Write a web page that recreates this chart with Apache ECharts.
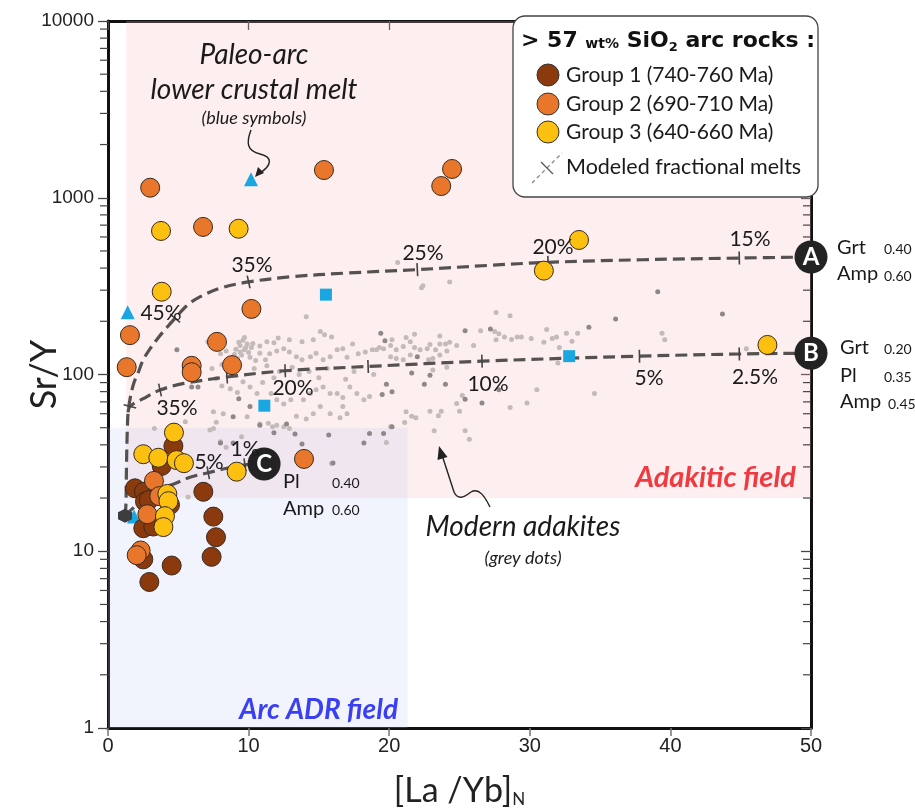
<!DOCTYPE html>
<html><head><meta charset="utf-8">
<script src="https://cdn.jsdelivr.net/npm/echarts@6/dist/echarts.min.js"></script>
<style>html,body{margin:0;padding:0;background:#fff}#c{width:915px;height:812px}</style>
</head><body><div id="c"></div>
<script>
// ---------- DATA ----------
const xTicks = [0, 10, 20, 30, 40, 50];
const yTicks = [1, 10, 100, 1000, 10000];
const minorTickValues = [2,3,4,5,6,7,8,9,20,30,40,50,60,70,80,90,200,300,400,500,600,700,800,900,2000,3000,4000,5000,6000,7000,8000,9000];

const group1 = [[4.65,39.4],[3.82,30.4],[1.92,22.7],[2.56,21.7],[2.63,19.1],[2.9,19.5],[4.41,18.3],[2.51,13.5],[3.22,13.8],[6.78,21.7],[7.49,15.7],[7.68,12.0],[7.37,9.3],[4.53,8.3],[2.94,6.7],[2.51,9.0]];
const group2 = [[3.0,1140],[6.76,684],[15.36,1435],[23.7,1165],[24.47,1455],[10.2,235],[1.56,167],[1.33,110],[7.75,153],[5.95,112],[5.95,103],[8.82,113],[13.94,33.3],[3.27,25.0],[3.65,20.5],[2.8,16.2],[2.32,10.1],[2.04,9.5]];
const group3 = [[3.77,649],[9.29,668],[3.82,294],[33.5,577],[31.0,387],[46.9,147],[4.69,46.9],[2.51,35.4],[3.58,33.8],[4.88,32.8],[5.4,31.5],[9.15,28.2],[4.22,21.1],[4.3,19.2],[4.05,15.8],[3.94,13.7]];
const paleoTriangles = [[10.17,1271],[1.4,225],[1.85,15.7]];
const paleoSquares = [[15.5,283],[11.12,66.6],[32.8,127]];
const startPoint = [[1.21,15.9]];

const greyLight = [[14.1,212],[15.1,175],[15.4,168],[15.9,163],[14.6,157],[13.8,153],[12.9,157],[12.1,161],[11.8,151],[11.3,153],[10.8,145],[10.2,142],[9.9,149],[9.4,146],[9.7,138],[9.5,129],[9.2,123],[10.1,125],[10.5,120],[10.8,132],[11.2,121],[11.5,131],[12.0,136],[12.5,140],[12.9,134],[13.4,126],[13.8,121],[14.4,126],[14.8,132],[15.3,121],[15.8,126],[16.3,138],[16.7,140],[17.0,125],[17.4,149],[17.8,131],[18.3,134],[18.8,138],[19.3,142],[8.4,136],[8.0,131],[7.4,108],[8.1,114],[8.5,106],[7.7,95],[8.1,86],[8.7,83],[9.2,79],[9.6,91],[10.1,85],[10.6,78],[11.0,90],[11.6,78],[12.0,72],[12.5,68],[13.0,72],[13.9,72],[14.4,78],[14.8,82],[15.3,85],[15.8,78],[16.3,78],[16.7,74],[17.2,85],[17.7,78],[18.2,72],[18.6,75],[16.7,66],[17.0,60],[16.5,57],[15.8,60],[15.1,66],[14.6,60],[14.1,56],[13.4,58],[12.9,49.5],[12.5,50.6],[12.0,51.6],[11.4,53],[10.8,52.5],[9.9,57.6],[8.2,60],[7.5,61.5],[7.7,53.6],[8.0,41.7],[8.4,38.7],[7.5,49.5],
[9.3,152],[9.6,156],[9.8,142],[10.0,133],[9.1,139],[9.4,134],[10.3,150],[9.7,162],[9.0,130],[10.4,108],[11.3,112],[12.2,104],[13.1,110],[11.8,96],[13.6,100],[14.3,104],[15.0,96],[15.6,108],[16.9,94],[17.5,104],[18.9,100],
[22.4,318],[24.3,334],[27.6,224],[28.6,215],[26.5,177],[27.5,175],[27.8,170],[27.6,157],[28.2,163],[28.7,158],[29.1,163],[29.4,163],[30.1,160],[31.2,180],[31.6,160],[31.0,152],[31.9,163],[32.6,171],[33.0,154],[33.4,171],[32.1,142],[32.0,116],[19.1,138],[19.6,140],[20.1,146],[20.2,157],[20.5,138],[21.0,144],[21.2,162],[21.5,153],[21.8,169],[21.8,142],[22.2,138],[21.5,129],[21.0,121],[20.5,123],[20.1,126],[22.7,140],[22.9,148],[23.3,138],[23.6,149],[23.6,165],[24.0,149],[24.3,152],[24.1,136],[24.8,146],[23.6,129],[23.1,123],[22.8,121],[26.0,146],[24.1,110],[23.1,106],[30.5,82],[34.6,78],[25.2,76],[24.8,68.5],[25.0,62],[23.7,62],[23.5,58.5],[22.9,62],[21.2,61.6],[21.6,58],[21.9,57],[21.1,53.5],[28.6,65],[29.8,69],[19.8,41.3],[23.2,48],[25.4,48],[25.7,43],
[39.4,171],[39.6,157],[45.4,140],[20.6,430],[22.3,310],[7.1,153],[5.7,20.3],[7.25,23.2],[3.3,49.5],[5.5,54],[7.25,48.5],[9.5,44.5],[11.7,50.6],[15.9,31.4],[20.1,50.6]];
const greyDark = [[4.9,138],[5.95,85],[6.4,85],[9.3,73],[10.1,66],[8.9,57.6],[10.8,51.6],[11.8,46.8],[12.7,52.5],[13.3,46],[15.7,45.5],[13.8,40.5],[16.0,31.6],[18.2,41],[18.6,46.4],[11.2,29.4],[25.4,177],[27.2,181],[34.2,185],[19.4,171],[19.7,155],[22.0,126],[21.6,102],[22.9,99],[22.5,88],[24.0,88],[19.8,88],[20.2,80],[19.5,77],[27.8,82],[25.4,72.5],[26.6,69],[20.2,50.6],[19.6,46.4],[39.1,294],[36.1,206],[43.7,220],[8.0,41],[8.9,41]];

const curveA = [[1.21,15.9],[1.27,18],[1.3,25],[1.33,35],[1.37,48],[1.43,61],[1.6,75],[1.85,90],[2.2,105],[2.5,121],[3.0,140],[3.56,161],[4.2,185],[4.77,208],[5.6,245],[6.5,274],[8,308],[10,334],[13,357],[17,375],[22,392],[27,414],[31.3,431],[38,446],[44.9,456],[50,462]];
const curveB = [[1.43,61],[1.56,66],[2.5,73],[3.7,81.7],[5.4,89],[8.46,96.8],[12.6,105],[18.5,111],[26.6,119],[37.8,127],[44.9,130.6],[50,132]];
const curveC = [[1.21,15.9],[1.8,17.6],[2.6,20],[3.6,22.4],[4.77,24.2],[5.83,26.2],[7.13,27.8],[8.2,29.2],[9.74,30.8],[11.1,31.2]];
const ticksA = [[4.77,208],[10,334],[22,392],[31.3,431],[44.9,456]];
const ticksB = [[1.56,66],[3.7,81.7],[8.46,96.8],[12.6,105],[18.5,111],[26.6,119],[37.8,127],[44.9,130.6]];
const ticksC = [[7.13,27.8],[9.74,30.8]];
const modelEnds = [{name:'A', value:[50,462]},{name:'B', value:[50,132]},{name:'C', value:[11.1,31.2]}];
const adakiticField = [[1.3,20],[50,10000]];
const arcADRField = [[0,1],[21.3,50]];

// ---------- STYLE ----------
const FONT = 'Lato, "Open Sans", sans-serif';
const tickRotA = [50, 12, 3, 2, 1];
const tickRotB = [75, 12, 4, 2, 2, 2, 1, 1];
const tickRotC = [10, 8];
const C1 = '#8b3a0e', C2 = '#e8772c', C3 = '#fcc010', BLUE = '#1aa7e1';

const chart = echarts.init(document.getElementById('c'));
const axisLineStyle = {color:'#111', width:3};

function tickSeries(name, data, rots){
  return {name, type:'scatter', z:4, symbol:'rect', symbolSize:[1.6,13], silent:true,
    itemStyle:{color:'#444', opacity:1},
    data: data.map((d,i)=>({value:d, symbolRotate:rots[i]}))};
}
function curve(name, data){
  return {name, type:'line', data, smooth:0.35, showSymbol:false, z:3, silent:true,
    lineStyle:{color:'#555151', width:3.2, type:[12,6]}};
}
function group(name, data, color){
  return {name, type:'scatter', data, symbol:'circle', symbolSize:19, z:6, clip:false,
    itemStyle:{color, borderColor:'#3a2a20', borderWidth:1, opacity:1}};
}

const option = {
  animation:false,
  backgroundColor:'#fff',
  grid:{left:108, right:104, top:21, bottom:84, outerBoundsMode:'none', containLabel:false},
  xAxis:[
    {type:'value', min:0, max:50, interval:10, position:'bottom',
     axisLine:{show:true, onZero:false, lineStyle:axisLineStyle},
     axisTick:{show:true, inside:false, length:8, lineStyle:{color:'#777', width:1.5}},
     axisLabel:{fontFamily:'"Liberation Sans Narrow","Liberation Sans",sans-serif', fontSize:20, color:'#222', margin:8,
       formatter:v=>xTicks.includes(v)?String(v):''},
     splitLine:{show:false},
     name:'{a|[La /Yb]}{b|N}', nameLocation:'middle', nameGap:46, nameMoveOverlap:false,
     nameTextStyle:{rich:{a:{fontFamily:FONT, fontSize:34, color:'#222'}, b:{fontFamily:FONT, fontSize:17, color:'#222', padding:[17,0,0,0]}}}},
    {type:'value', min:0, max:50, interval:10, position:'top',
     axisLine:{show:true, onZero:false, lineStyle:axisLineStyle},
     axisTick:{show:true, inside:true, length:9, lineStyle:{color:'#444', width:1.3}},
     axisLabel:{show:false}, splitLine:{show:false}}
  ],
  yAxis:[
    {type:'log', logBase:10, min:1, max:10000, position:'left',
     axisLine:{show:true, onZero:false, lineStyle:axisLineStyle},
     axisTick:{show:true, inside:false, length:10, lineStyle:{color:'#444', width:1.3}},
     axisLabel:{fontFamily:'"Liberation Sans",Arial,sans-serif', fontSize:19, color:'#222', margin:14,
       formatter:v=>{const r=Math.round(v); return yTicks.includes(r)?String(r):'';}},
     splitLine:{show:false},
     name:'Sr/Y', nameLocation:'middle', nameGap:46, nameRotate:90, nameMoveOverlap:false,
     nameTextStyle:{fontFamily:FONT, fontSize:36, color:'#222'}},
    {type:'log', logBase:10, min:1, max:10000, position:'right',
     axisLine:{show:true, onZero:false, lineStyle:axisLineStyle},
     axisTick:{show:true, inside:true, length:10, lineStyle:{color:'#444', width:1.3}},
     axisLabel:{show:false}, splitLine:{show:false}}
  ],
  series:[
    {name:'fields', type:'scatter', data:[], z:1, silent:true,
     markArea:{silent:true, data:[
       [{coord:adakiticField[0], itemStyle:{color:'rgba(245,185,185,0.23)'}},{coord:adakiticField[1]}],
       [{coord:arcADRField[0], itemStyle:{color:'rgba(185,195,245,0.2)'}},{coord:arcADRField[1]}]
     ]}},
    {name:'minor ticks', type:'custom', silent:true, z:2, clip:false,
     data:minorTickValues.map(v=>[0,v]),
     renderItem:(params, api)=>{
       const v = api.value(1);
       const p0 = api.coord([0, v]);
       const p1 = api.coord([50, v]);
       return {type:'group', children:[
         {type:'line', shape:{x1:p0[0]-8, y1:p0[1], x2:p0[0], y2:p0[1]}, style:{stroke:'#444', lineWidth:1.2}},
         {type:'line', shape:{x1:p1[0]-8, y1:p1[1], x2:p1[0], y2:p1[1]}, style:{stroke:'#444', lineWidth:1.2}}
       ]};
     }},
    {name:'Modern adakites (light)', type:'scatter', data:greyLight, symbolSize:5, z:2, silent:true, itemStyle:{color:'#c3baba', opacity:1}},
    {name:'Modern adakites (dark)', type:'scatter', data:greyDark, symbolSize:5, z:2, silent:true, itemStyle:{color:'#8e8888', opacity:1}},
    curve('Model A', curveA),
    curve('Model B', curveB),
    curve('Model C', curveC),
    tickSeries('ticks A', ticksA, tickRotA),
    tickSeries('ticks B', ticksB, tickRotB),
    tickSeries('ticks C', ticksC, tickRotC),
    {name:'Paleo-arc triangles', type:'scatter', data:paleoTriangles, symbol:'triangle', symbolSize:14, z:5, itemStyle:{color:BLUE, opacity:1}},
    {name:'Paleo-arc squares', type:'scatter', data:paleoSquares, symbol:'rect', symbolSize:12, z:5, itemStyle:{color:BLUE, opacity:1}},
    {name:'start', type:'scatter', data:startPoint, symbol:'path://M50,0 L93.3,25 L93.3,75 L50,100 L6.7,75 L6.7,25 Z', symbolSize:14, z:5, itemStyle:{color:'#3d3d3d', opacity:1}},
    group('Group 1 (740-760 Ma)', group1, C1),
    group('Group 2 (690-710 Ma)', group2, C2),
    group('Group 3 (640-660 Ma)', group3, C3),
    {name:'model ends', type:'scatter', data:modelEnds, symbolSize:33, z:7, clip:false, silent:true,
     itemStyle:{color:'#232323', opacity:1},
     label:{show:true, position:'inside', formatter:'{b}', color:'#fff', fontFamily:FONT, fontSize:24, fontWeight:'bold'}}
  ]
};

// ---------- ANNOTATIONS (graphic) ----------
function txt(text, x, y, o){
  o = o || {};
  return {type:'text', z:100, silent:true, x, y,
    style:{text, fill:o.fill||'#1a1a1a', font:(o.style||'')+' '+(o.weight||'')+' '+(o.size||19)+'px '+FONT,
      textAlign:o.align||'center', textVerticalAlign:'middle'}};
}
function bez(p){
  return {type:'bezierCurve', z:100, silent:true,
    shape:{x1:p[0], y1:p[1], cpx1:p[2], cpy1:p[3], cpx2:p[4], cpy2:p[5], x2:p[6], y2:p[7]},
    style:{stroke:'#222', lineWidth:1.4, fill:null}};
}
const g = [];
g.push(txt('Paleo-arc', 254, 55, {style:'italic', size:28}));
g.push(txt('lower crustal melt', 254, 90, {style:'italic', size:28}));
g.push(txt('(blue symbols)', 254, 118, {style:'italic', size:18}));
g.push(txt('Modern adakites', 523, 527, {style:'italic', size:28}));
g.push(txt('(grey dots)', 523, 558, {style:'italic', size:18}));
g.push(txt('Adakitic field', 796, 478, {style:'italic', weight:'bold', size:29, fill:'#f03a40', align:'right'}));
g.push(txt('Arc ADR field', 398, 710, {style:'italic', weight:'bold', size:28, fill:'#3b3ff2', align:'right'}));
[['45%',161,313],['35%',252,265],['25%',423,253],['20%',553,247],['15%',750,239],
 ['35%',177,408],['20%',293,388],['10%',488,384],['5%',649,378],['2.5%',755,377],
 ['5%',209,462],['1%',245,449]].forEach(p=>g.push(txt(p[0],p[1],p[2],{size:21})));
const comp = [['Grt',837,248,'0.40',884,249],['Amp',837,274,'0.60',884,276],
              ['Grt',840,348,'0.20',884,349],['Pl',840,376,'0.35',884,377],['Amp',840,402,'0.45',888,404],
              ['Pl',283,482,'0.40',332,483],['Amp',283,509,'0.60',332,510]];
comp.forEach(c=>{g.push(txt(c[0],c[1],c[2],{size:20,align:'left'})); g.push(txt(c[3],c[4],c[5],{size:14,align:'left'}));});
// arrows
g.push(bez([251,130, 246,143, 247,151, 260,154]));
g.push(bez([260,154, 273,157, 272,165, 260,173]));
g.push({type:'polygon', z:100, silent:true, shape:{points:[[255,177],[264,173],[258,167]]}, style:{fill:'#222'}});
g.push(bez([490,507, 485,497, 479,487, 471,492]));
g.push(bez([471,492, 463,498, 458,500, 454,492]));
g.push({type:'line', z:100, silent:true, shape:{x1:454, y1:492, x2:442, y2:455}, style:{stroke:'#222', lineWidth:1.4}});
g.push({type:'polygon', z:100, silent:true, shape:{points:[[439,446],[447.5,457],[437.5,460]]}, style:{fill:'#222'}});
// legend box
const LF = '"DejaVu Sans","Liberation Sans",Arial,sans-serif';
g.push({type:'rect', z:110, silent:true, shape:{x:513, y:16, width:305, height:181, r:12}, style:{fill:'#fff', stroke:'#444', lineWidth:1.3}});
g.push({type:'text', z:111, silent:true, x:521, y:41,
  style:{text:'{a|> 57 }{b|wt%}{a| SiO}{c|2}{a| arc rocks :}', textVerticalAlign:'middle', textAlign:'left',
    rich:{a:{fontFamily:LF, fontWeight:'bold', fontSize:22, fill:'#111', verticalAlign:'bottom'},
          b:{fontFamily:LF, fontWeight:'bold', fontSize:14, fill:'#111', verticalAlign:'bottom', padding:[0,0,1,0]},
          c:{fontFamily:LF, fontWeight:'bold', fontSize:13, fill:'#111', verticalAlign:'bottom', padding:[0,0,-2,0]}}}});
[[75,C1,'Group 1 (740-760 Ma)'],[104,C2,'Group 2 (690-710 Ma)'],[132,C3,'Group 3 (640-660 Ma)']].forEach(it=>{
  g.push({type:'circle', z:111, silent:true, shape:{cx:548, cy:it[0], r:11}, style:{fill:it[1], stroke:'#333', lineWidth:1}});
  const t = txt(it[2], 566, it[0], {size:21, align:'left'}); t.z = 111; g.push(t);
});
g.push({type:'line', z:111, silent:true, shape:{x1:532, y1:183, x2:562, y2:153}, style:{stroke:'#888', lineWidth:1.3, lineDash:[4,3]}});
g.push({type:'line', z:111, silent:true, shape:{x1:541, y1:162, x2:553, y2:174}, style:{stroke:'#555', lineWidth:1.2}});
const tm = txt('Modeled fractional melts', 566, 167, {size:21.5, align:'left'}); tm.z = 111; g.push(tm);
option.graphic = g;

chart.setOption(option);
</script></body></html>
